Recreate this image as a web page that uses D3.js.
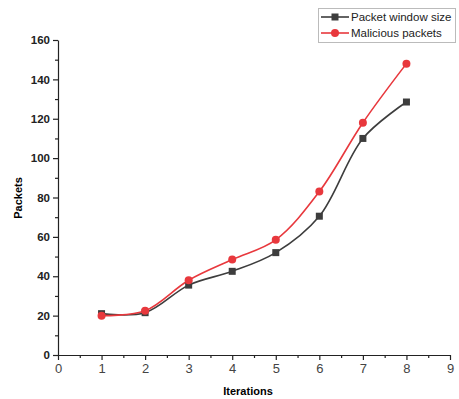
<!DOCTYPE html>
<html>
<head>
<meta charset="utf-8">
<script src="https://cdn.jsdelivr.net/npm/d3@7"></script>
<style>
  body { margin: 0; background: #fff; }
  text { font-family: "Liberation Sans", Arial, sans-serif; }
</style>
</head>
<body>
<svg id="chart" width="459" height="399"></svg>
<script>
  // chart data
  var iterations = [1, 2, 3, 4, 5, 6, 7, 8];
  var windowSize = [21, 21.5, 35.5, 42.5, 52, 70.5, 110, 128.5];
  var malicious = [20, 22.5, 38, 48.5, 58.5, 83, 118, 148];
  var xTicks = [0, 1, 2, 3, 4, 5, 6, 7, 8, 9];
  var yTicks = [0, 20, 40, 60, 80, 100, 120, 140, 160];
  var seriesNames = ['Packet window size', 'Malicious packets'];

  var svg = d3.select('#chart');
  var x = d3.scaleLinear().domain([0, 9]).range([58, 450]);
  var y = d3.scaleLinear().domain([0, 160]).range([355, 40]);

  // minor ticks
  svg.append('g')
    .attr('transform', 'translate(0,355)')
    .call(d3.axisBottom(x).tickValues(d3.range(0.5, 9, 1)).tickSize(3).tickFormat(''))
    .call(function (g) { g.select('.domain').remove(); });
  svg.append('g')
    .attr('transform', 'translate(58,0)')
    .call(d3.axisLeft(y).tickValues(d3.range(10, 160, 20)).tickSize(3).tickFormat(''))
    .call(function (g) { g.select('.domain').remove(); });

  var xAxis = svg.append('g')
    .attr('transform', 'translate(0,355)')
    .call(d3.axisBottom(x).tickValues(xTicks).tickSize(5).tickSizeOuter(0));
  xAxis.selectAll('text').attr('font-size', 13).attr('fill', '#444').attr('dy', '0.75em');

  var yAxis = svg.append('g')
    .attr('transform', 'translate(58,0)')
    .call(d3.axisLeft(y).tickValues(yTicks).tickSize(5).tickSizeOuter(0));
  yAxis.selectAll('text').attr('font-size', 11.5).attr('font-weight', 'bold').attr('fill', '#222');

  svg.selectAll('.domain, .tick line').attr('stroke', '#222').attr('stroke-width', 1.2);

  svg.append('text')
    .attr('x', 248).attr('y', 395)
    .attr('text-anchor', 'middle')
    .attr('font-size', 11).attr('font-weight', 'bold')
    .text('Iterations');
  svg.append('text')
    .attr('transform', 'translate(22,198) rotate(-90)')
    .attr('text-anchor', 'middle')
    .attr('font-size', 11).attr('font-weight', 'bold')
    .text('Packets');

  var line = d3.line().curve(d3.curveCatmullRom.alpha(0.5));
  var colors = ['#3d3d3d', '#e8383d'];
  var series = [windowSize, malicious];

  series.forEach(function (vals, i) {
    var pts = iterations.map(function (d, j) { return [x(d), y(vals[j])]; });
    svg.append('path')
      .attr('d', line(pts))
      .attr('fill', 'none')
      .attr('stroke', colors[i])
      .attr('stroke-width', 1.6);
  });

  // markers
  svg.selectAll('.sq').data(iterations).enter().append('rect')
    .attr('x', function (d) { return x(d) - 3.5; })
    .attr('y', function (d, j) { return y(windowSize[j]) - 3.5; })
    .attr('width', 7).attr('height', 7)
    .attr('fill', colors[0]);
  svg.selectAll('.dot').data(iterations).enter().append('circle')
    .attr('cx', function (d) { return x(d); })
    .attr('cy', function (d, j) { return y(malicious[j]); })
    .attr('r', 4)
    .attr('fill', colors[1]);

  // legend
  var lg = svg.append('g');
  lg.append('rect')
    .attr('x', 318.5).attr('y', 8.5).attr('width', 137).attr('height', 34)
    .attr('fill', '#fff').attr('stroke', '#bbb');
  seriesNames.forEach(function (name, i) {
    var ly = 17 + i * 16;
    lg.append('line')
      .attr('x1', 321).attr('x2', 349).attr('y1', ly).attr('y2', ly)
      .attr('stroke', colors[i]).attr('stroke-width', 1.6);
    if (i === 0) {
      lg.append('rect').attr('x', 331.5).attr('y', ly - 3.5).attr('width', 7).attr('height', 7).attr('fill', colors[0]);
    } else {
      lg.append('circle').attr('cx', 335).attr('cy', ly).attr('r', 4).attr('fill', colors[1]);
    }
    lg.append('text')
      .attr('x', 351).attr('y', ly + 4)
      .attr('font-size', 11.5).attr('fill', '#222')
      .text(name);
  });
</script>
</body>
</html>
